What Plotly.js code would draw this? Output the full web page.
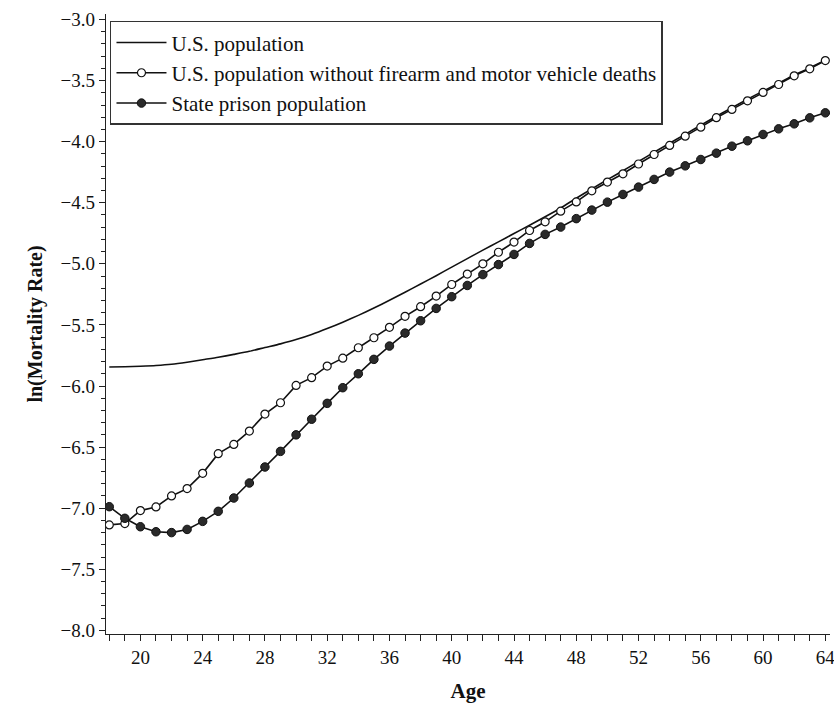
<!DOCTYPE html>
<html>
<head>
<meta charset="utf-8">
<script src="https://cdn.plot.ly/plotly-3.0.1.min.js"></script>
<style>html,body{margin:0;padding:0;background:#fff;}#chart{width:834px;height:704px;}</style>
</head>
<body>
<div id="chart"></div>
<script>
const ages = [18,19,20,21,22,23,24,25,26,27,28,29,30,31,32,33,34,35,36,37,38,39,40,41,42,43,44,45,46,47,48,49,50,51,52,53,54,55,56,57,58,59,60,61,62,63,64];

const usPopulation = [-5.845,-5.843,-5.838,-5.832,-5.822,-5.805,-5.785,-5.765,-5.741,-5.716,-5.685,-5.655,-5.62,-5.578,-5.53,-5.478,-5.422,-5.362,-5.298,-5.232,-5.165,-5.097,-5.027,-4.957,-4.888,-4.82,-4.752,-4.684,-4.615,-4.543,-4.463,-4.386,-4.311,-4.238,-4.162,-4.087,-4.013,-3.94,-3.866,-3.792,-3.722,-3.653,-3.586,-3.521,-3.455,-3.396,-3.334];

const usNoFirearmMotor = [-7.137,-7.126,-7.02,-6.99,-6.90,-6.84,-6.715,-6.554,-6.478,-6.369,-6.23,-6.137,-5.995,-5.932,-5.837,-5.772,-5.687,-5.605,-5.52,-5.43,-5.351,-5.264,-5.169,-5.084,-5.0,-4.905,-4.822,-4.727,-4.656,-4.569,-4.493,-4.402,-4.331,-4.263,-4.183,-4.105,-4.031,-3.955,-3.881,-3.804,-3.736,-3.666,-3.597,-3.532,-3.461,-3.404,-3.336];

const statePrison = [-6.988,-7.083,-7.152,-7.193,-7.20,-7.174,-7.108,-7.026,-6.917,-6.794,-6.663,-6.535,-6.40,-6.272,-6.142,-6.014,-5.90,-5.782,-5.673,-5.567,-5.466,-5.365,-5.269,-5.177,-5.088,-5.006,-4.923,-4.833,-4.759,-4.699,-4.63,-4.56,-4.495,-4.432,-4.372,-4.309,-4.249,-4.198,-4.146,-4.094,-4.037,-3.993,-3.941,-3.895,-3.854,-3.805,-3.764];

const seriesNames = ["U.S. population", "U.S. population without firearm and motor vehicle deaths", "State prison population"];

const FONT = "Liberation Serif";

const traces = [
  {x: ages, y: usPopulation, name: seriesNames[0], type: "scatter", mode: "lines",
   line: {color: "#111", width: 1.6, shape: "spline", smoothing: 0.6}},
  {x: ages, y: usNoFirearmMotor, name: seriesNames[1], type: "scatter", mode: "lines+markers",
   line: {color: "#111", width: 1.6},
   marker: {symbol: "circle", size: 8, color: "#fff", line: {color: "#111", width: 1.2}}},
  {x: ages, y: statePrison, name: seriesNames[2], type: "scatter", mode: "lines+markers",
   line: {color: "#111", width: 1.6},
   marker: {symbol: "circle", size: 8.5, color: "#2a2a2a", line: {color: "#111", width: 1}}}
];

const layout = {
  width: 834, height: 704,
  margin: {l: 106, r: 4, t: 14, b: 70},
  paper_bgcolor: "#fff", plot_bgcolor: "#fff",
  font: {family: FONT, color: "#111", size: 19},
  showlegend: true,
  legend: {x: 0.0055, y: 0.989, xanchor: "left", yanchor: "top",
    bgcolor: "#fff", bordercolor: "#333", borderwidth: 1.5,
    font: {family: FONT, size: 21, color: "#111"}, tracegroupgap: 0, itemwidth: 50},
  xaxis: {
    range: [17.79, 64.3], tick0: 20, dtick: 4, showgrid: false, zeroline: false,
    showline: true, linecolor: "#222", linewidth: 1.2,
    ticks: "outside", ticklen: 6, tickwidth: 1, tickcolor: "#222",
    ticklabeloverflow: "allow",
    minor: {dtick: 1, ticks: "outside", ticklen: 6, tickwidth: 1, tickcolor: "#222", showgrid: false},
    tickfont: {family: FONT, size: 19, color: "#111"},
    title: {text: "<b>Age</b>", font: {family: FONT, size: 21, color: "#111"}, standoff: 16}
  },
  yaxis: {
    range: [-8.03, -2.955], tick0: -8, dtick: 0.5, tickformat: ".1f", showgrid: false, zeroline: false,
    showline: true, linecolor: "#222", linewidth: 1.2,
    ticks: "outside", ticklen: 6, tickwidth: 1, tickcolor: "#222",
    minor: {dtick: 0.1, ticks: "outside", ticklen: 4, tickwidth: 1, tickcolor: "#222", showgrid: false},
    tickfont: {family: FONT, size: 19, color: "#111"},
    title: {text: "<b>ln(Mortality Rate)</b>", font: {family: FONT, size: 20, color: "#111"}, standoff: 12}
  }
};

Plotly.newPlot("chart", traces, layout, {displayModeBar: false, staticPlot: true});
</script>
</body>
</html>
